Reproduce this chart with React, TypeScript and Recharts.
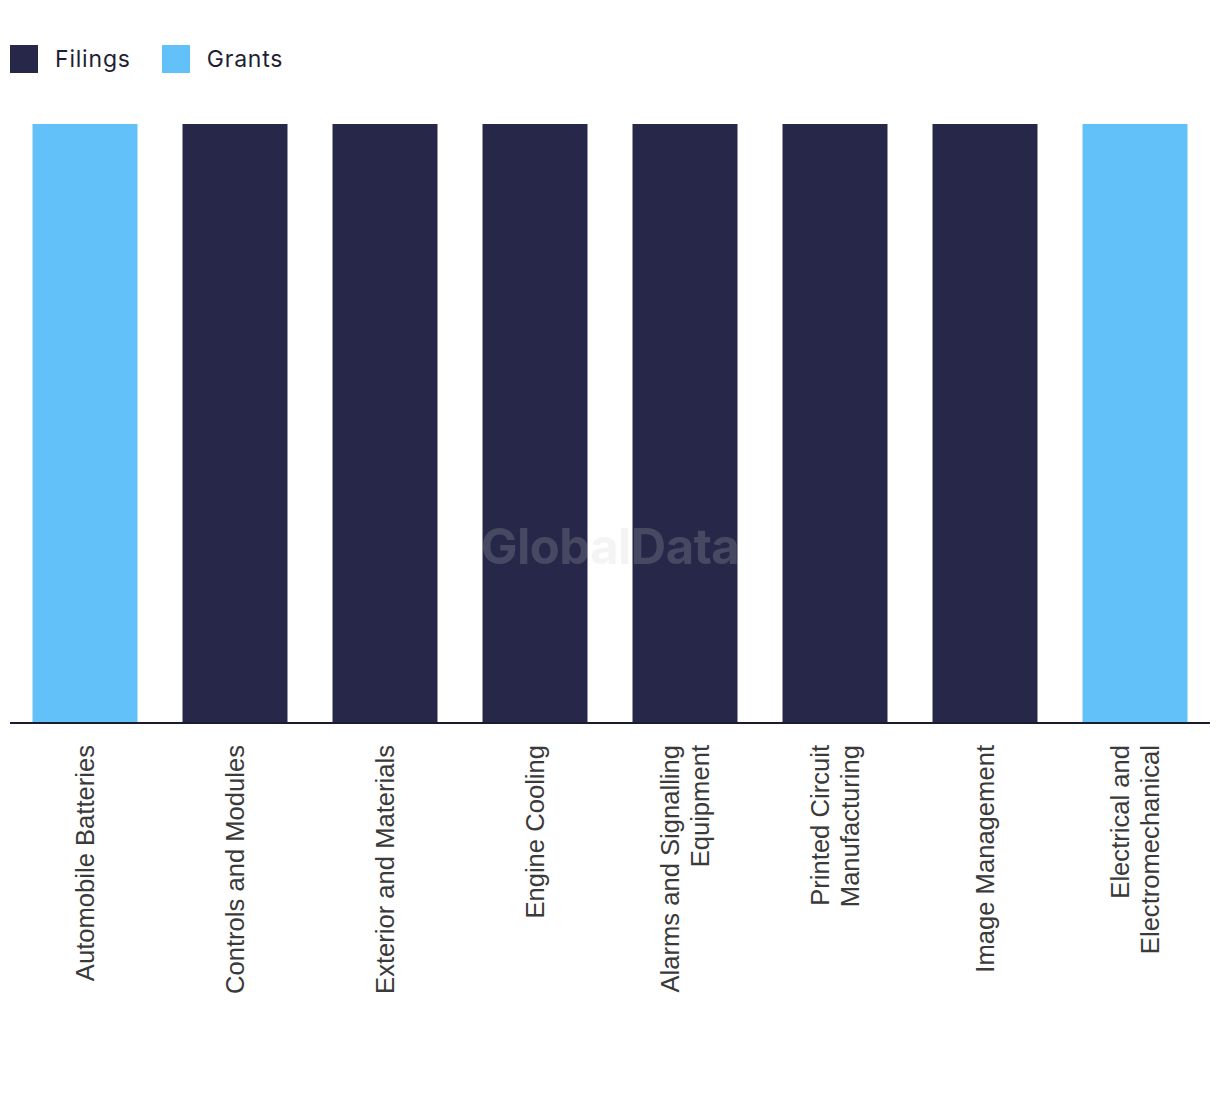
import React from "react";
import { Bar, BarChart, XAxis, YAxis } from "recharts";

// categories and their wrapped tick labels
const categories = [
  "Automobile Batteries",
  "Controls and Modules",
  "Exterior and Materials",
  "Engine Cooling",
  "Alarms and Signalling Equipment",
  "Printed Circuit Manufacturing",
  "Image Management",
  "Electrical and Electromechanical",
];

const tickLabels = [
  ["Automobile Batteries"],
  ["Controls and Modules"],
  ["Exterior and Materials"],
  ["Engine Cooling"],
  ["Alarms and Signalling", "Equipment"],
  ["Printed Circuit", "Manufacturing"],
  ["Image Management"],
  ["Electrical and", "Electromechanical"],
];

// share of each category (100% stacked)
const filings = [0, 1, 1, 1, 1, 1, 1, 0];
const grants = [1, 0, 0, 0, 0, 0, 0, 1];

const seriesNames = ["Filings", "Grants"];
const seriesColors = ["#272849", "#63c1f9"];

const data = categories.map((name, i) => ({
  name,
  Filings: filings[i],
  Grants: grants[i],
}));

function WrappedTick(props: any) {
  const { x, y, payload } = props;
  const lines = tickLabels[payload.index] || [payload.value];
  const lineGap = 30;
  const start = -((lines.length - 1) * lineGap) / 2 + 9;
  return (
    <g transform={`translate(${x},${y})`}>
      <text
        transform="rotate(-90)"
        textAnchor="end"
        fill="#3a3a3a"
        fontSize={25.6}
        fontFamily="'Liberation Sans', Arial, sans-serif"
      >
        {lines.map((line: string, i: number) => (
          <tspan key={i} x={0} y={start + i * lineGap}>
            {line}
          </tspan>
        ))}
      </text>
    </g>
  );
}

export default function App() {
  return (
    <div
      style={{
        position: "absolute",
        left: 0,
        top: 0,
        width: 1220,
        height: 1094,
        background: "#fff",
        fontFamily: "Inter, sans-serif",
      }}
    >
      <div
        style={{
          position: "absolute",
          left: 10,
          top: 45,
          display: "flex",
          alignItems: "center",
        }}
      >
        {seriesNames.map((s, i) => (
          <div
            key={s}
            style={{ display: "flex", alignItems: "center", marginRight: 31 }}
          >
            <span
              style={{
                width: 28,
                height: 28,
                background: seriesColors[i],
                display: "inline-block",
                marginRight: 17,
              }}
            />
            <span style={{ fontSize: 23, color: "#1f1f33", letterSpacing: 0.8 }}>
              {s}
            </span>
          </div>
        ))}
      </div>

      <BarChart
        width={1220}
        height={1094}
        data={data}
        margin={{ top: 124, right: 10, left: 10, bottom: 71 }}
        barCategoryGap="15%"
      >
        <YAxis hide domain={[0, 1]} />
        <XAxis
          dataKey="name"
          interval={0}
          height={300}
          tickLine={false}
          tickSize={0}
          tickMargin={22}
          axisLine={{ stroke: "#1b1b2f", strokeWidth: 2 }}
          tick={<WrappedTick />}
        />
        <Bar
          dataKey="Filings"
          stackId="a"
          fill={seriesColors[0]}
          isAnimationActive={false}
        />
        <Bar
          dataKey="Grants"
          stackId="a"
          fill={seriesColors[1]}
          isAnimationActive={false}
        />
      </BarChart>

      <div
        style={{
          position: "absolute",
          left: 0,
          width: 1220,
          top: 517,
          zIndex: 10,
          textAlign: "center",
          fontSize: 49,
          fontWeight: 700,
          color: "rgba(201,201,201,0.2)",
          pointerEvents: "none",
          letterSpacing: -0.5,
        }}
      >
        GlobalData
      </div>
    </div>
  );
}
